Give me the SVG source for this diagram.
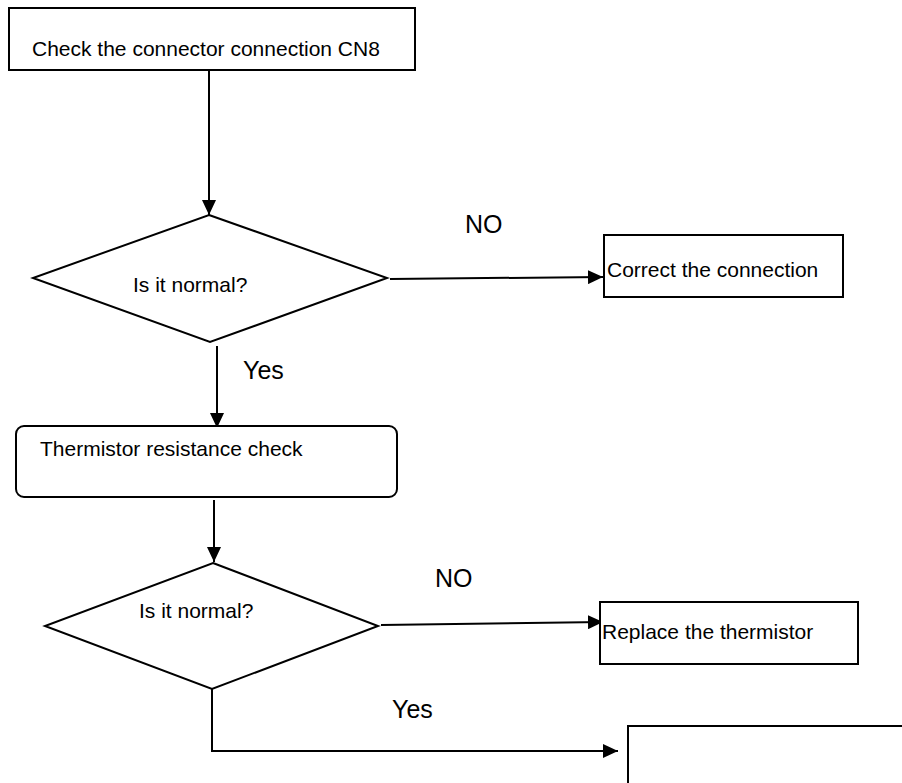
<svg xmlns="http://www.w3.org/2000/svg" width="902" height="783" viewBox="0 0 902 783">
<defs>
<marker id="ah" markerUnits="userSpaceOnUse" markerWidth="16" markerHeight="14" refX="15" refY="7" orient="auto">
<path d="M0,0 L15,7 L0,14 Z" fill="#000"/>
</marker>
<style>
.box{fill:#fff;stroke:#000;stroke-width:2}
.t{font-family:"Liberation Sans",Arial,sans-serif;font-size:21px;fill:#000}
.lbl{font-family:"Liberation Sans",Arial,sans-serif;font-size:25px;fill:#000}
.c{fill:none;stroke:#000;stroke-width:2}
</style>
</defs>
<rect width="902" height="783" fill="#fff"/>
<g id="connectors">
<line class="c" x1="209" y1="70" x2="209" y2="215" marker-end="url(#ah)"/>
<line class="c" x1="390" y1="279" x2="603" y2="277" marker-end="url(#ah)"/>
<line class="c" x1="217" y1="346" x2="217" y2="428" marker-end="url(#ah)"/>
<line class="c" x1="214" y1="500" x2="214" y2="562" marker-end="url(#ah)"/>
<line class="c" x1="381" y1="625" x2="603" y2="622" marker-end="url(#ah)"/>
<polyline class="c" points="212,689 212,751 618,751" marker-end="url(#ah)"/>
</g>
<g id="labels">
<text class="lbl" x="465" y="233">NO</text>
<text class="lbl" x="243" y="379">Yes</text>
<text class="lbl" x="435" y="587">NO</text>
<text class="lbl" x="392" y="718">Yes</text>
</g>
<g id="n1">
<rect class="box" x="9" y="8" width="406" height="62"/>
<text class="t" x="32" y="56">Check the connector connection CN8</text>
</g>
<g id="d1">
<polygon class="box" points="209,215 387,278 210,342 33,278"/>
<text class="t" x="133" y="292">Is it normal?</text>
</g>
<g id="n2">
<rect class="box" x="604" y="235" width="239" height="62"/>
<text class="t" x="607" y="277">Correct the connection</text>
</g>
<g id="n3">
<rect class="box" x="16" y="426" width="381" height="71" rx="8" ry="8"/>
<text class="t" x="40" y="456">Thermistor resistance check</text>
</g>
<g id="d2">
<polygon class="box" points="213,563 378,626 212,689 45,626"/>
<text class="t" x="139" y="618">Is it normal?</text>
</g>
<g id="n4">
<rect class="box" x="600" y="602" width="258" height="62"/>
<text class="t" x="602" y="639">Replace the thermistor</text>
</g>
<g id="n5">
<rect class="box" x="628" y="726" width="290" height="80"/>
</g>
</svg>
